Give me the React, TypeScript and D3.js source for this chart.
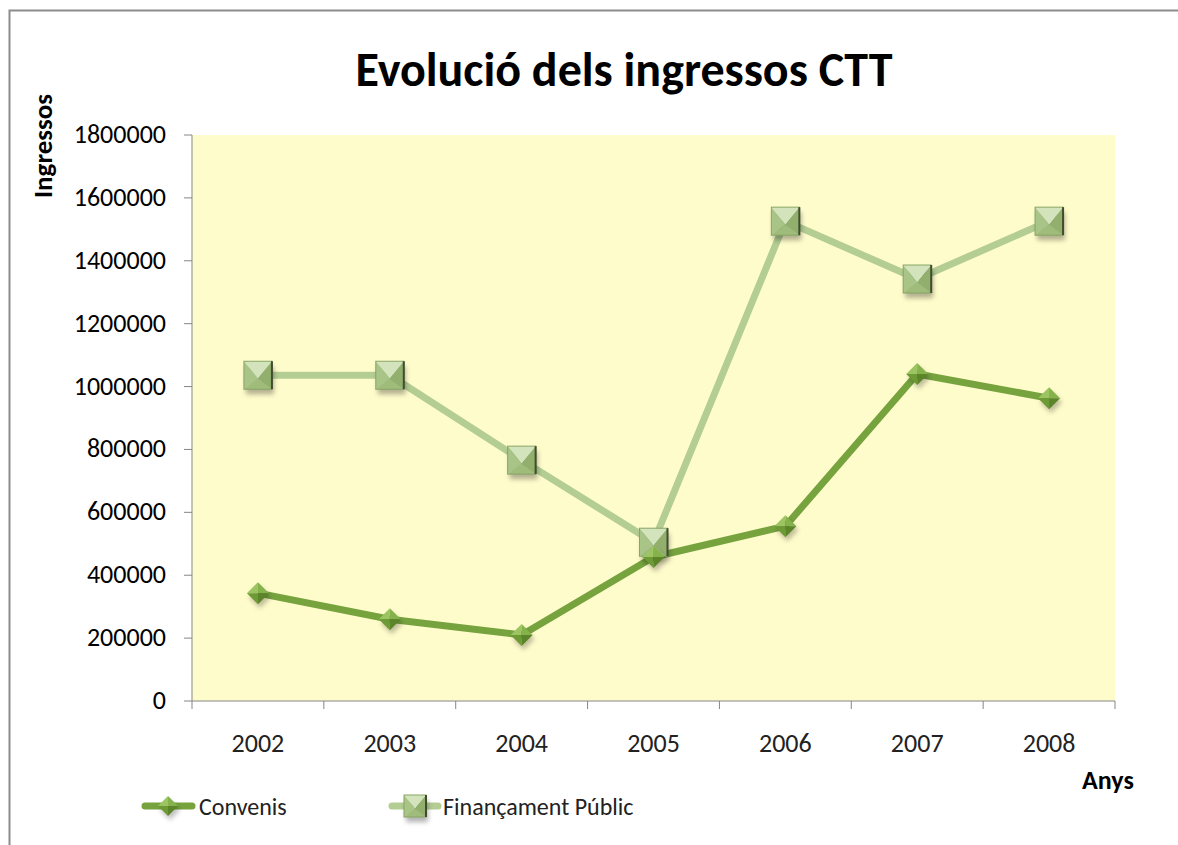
import React from "react";
import * as d3 from "d3";

// chart values
const years = ["2002", "2003", "2004", "2005", "2006", "2007", "2008"];
const convenis = [343000, 260000, 210000, 458000, 556000, 1040000, 963000];
const financament = [1036000, 1036000, 766000, 505000, 1526000, 1342000, 1526000];
const yTicks = [0, 200000, 400000, 600000, 800000, 1000000, 1200000, 1400000, 1600000, 1800000];

const W = 1178;
const H = 845;
const plot = { left: 192, top: 135, right: 1115, bottom: 701 };
const font = "Carlito, 'Open Sans', 'Liberation Sans', sans-serif";

const darkGreen = "#77a33f";
const lightGreen = "#b3cd93";

function Diamond({ x, y, r = 11 }: { x: number; y: number; r?: number }) {
  return (
    <g transform={`translate(${x},${y})`}>
      <polygon
        points={`2,${-r + 4} ${-r + 2},4 2,${r + 4} ${r + 2},4`}
        fill="#000"
        opacity={0.25}
        filter="url(#shadow)"
      />
      <polygon points={`0,${-r} ${-r},0 0,0`} fill="#9cc462" />
      <polygon points={`0,${-r} ${r},0 0,0`} fill="#86b24c" />
      <polygon points={`${-r},0 0,${r} 0,0`} fill="#6e9a36" />
      <polygon points={`${r},0 0,${r} 0,0`} fill="#5b8528" />
    </g>
  );
}

function Square({ x, y, s = 14 }: { x: number; y: number; s?: number }) {
  const c = s * 0.25;
  return (
    <g transform={`translate(${x},${y})`}>
      <rect
        x={-s + 2}
        y={-s + 5}
        width={2 * s}
        height={2 * s}
        fill="#000"
        opacity={0.3}
        filter="url(#shadow)"
      />
      <polygon points={`${-s},${-s} ${s},${-s} 0,${c}`} fill="#d3e4bd" />
      <polygon points={`${-s},${-s} ${-s},${s} 0,${c}`} fill="#a9c487" />
      <polygon points={`${s},${-s} ${s},${s} 0,${c}`} fill="#92af6d" />
      <polygon points={`${-s},${s} ${s},${s} 0,${c}`} fill="#9fbc7b" />
      <rect x={-s} y={-s} width={2 * s} height={2 * s} fill="none" stroke="#88a565" strokeWidth={1} />
      <line x1={s} y1={-s} x2={s} y2={s} stroke="#3f4c2e" strokeWidth={2} />
    </g>
  );
}

export default function App() {
  const x = d3.scaleBand<string>().domain(years).range([plot.left, plot.right]);
  const y = d3.scaleLinear().domain([0, 1800000]).range([plot.bottom, plot.top]);
  const cx = (d: string) => (x(d) as number) + x.bandwidth() / 2;
  const line = d3
    .line<number>()
    .x((_, i) => cx(years[i]))
    .y((d) => y(d));

  return (
    <svg
      width={W}
      height={H}
      style={{ position: "absolute", left: 0, top: 0, background: "#fff" }}
      fontFamily={font}
    >
      <defs>
        <filter id="shadow" x="-50%" y="-50%" width="200%" height="200%">
          <feGaussianBlur stdDeviation={2.5} />
        </filter>
      </defs>
      <rect x={9.5} y={10.5} width={W + 10} height={H + 10} fill="#fff" stroke="#8c8c8c" strokeWidth={2} />
      <text x={624} y={86} textAnchor="middle" fontSize={48} fontWeight="bold" fill="#000">
        Evolució dels ingressos CTT
      </text>

      <rect
        x={plot.left}
        y={plot.top}
        width={plot.right - plot.left}
        height={plot.bottom - plot.top}
        fill="#fffccc"
      />

      {/* y axis */}
      <line x1={plot.left} y1={plot.top} x2={plot.left} y2={plot.bottom} stroke="#868686" />
      {yTicks.map((t) => (
        <g key={t}>
          <line x1={plot.left - 8} x2={plot.left} y1={y(t)} y2={y(t)} stroke="#868686" />
          <text x={plot.left - 26} y={y(t) + 8} textAnchor="end" fontSize={26} fill="#000">
            {t}
          </text>
        </g>
      ))}
      <text
        transform={`translate(52,146) rotate(-90)`}
        textAnchor="middle"
        fontSize={27}
        fontWeight="bold"
      >
        Ingressos
      </text>

      {/* x axis */}
      <line x1={plot.left} y1={plot.bottom} x2={plot.right} y2={plot.bottom} stroke="#868686" />
      {years.concat(["end"]).map((d, i) => {
        const px = i < years.length ? (x(d) as number) : plot.right;
        return <line key={d} x1={px} x2={px} y1={plot.bottom} y2={plot.bottom + 8} stroke="#868686" />;
      })}
      {years.map((d) => (
        <text key={d} x={cx(d)} y={752} textAnchor="middle" fontSize={26} fill="#222">
          {d}
        </text>
      ))}
      <text x={1108} y={789} textAnchor="middle" fontSize={26} fontWeight="bold">
        Anys
      </text>

      {/* series */}
      <path d={line(financament) || ""} fill="none" stroke={lightGreen} strokeWidth={7} strokeLinejoin="round" />
      <path d={line(convenis) || ""} fill="none" stroke={darkGreen} strokeWidth={7} strokeLinejoin="round" />
      {financament.map((v, i) => (
        <Square key={"f" + i} x={cx(years[i])} y={y(v)} />
      ))}
      {convenis.map((v, i) => (
        <Diamond key={"c" + i} x={cx(years[i])} y={y(v)} />
      ))}

      {/* legend */}
      <line x1={145} x2={192} y1={806} y2={806} stroke={darkGreen} strokeWidth={7} strokeLinecap="round" />
      <Diamond x={168} y={806} r={10} />
      <text x={199} y={815} fontSize={24} fill="#222">
        Convenis
      </text>
      <line x1={392} x2={438} y1={806} y2={806} stroke={lightGreen} strokeWidth={7} strokeLinecap="round" />
      <Square x={415} y={806} s={11} />
      <text x={443} y={815} fontSize={24} fill="#222">
        Finançament Públic
      </text>
    </svg>
  );
}
